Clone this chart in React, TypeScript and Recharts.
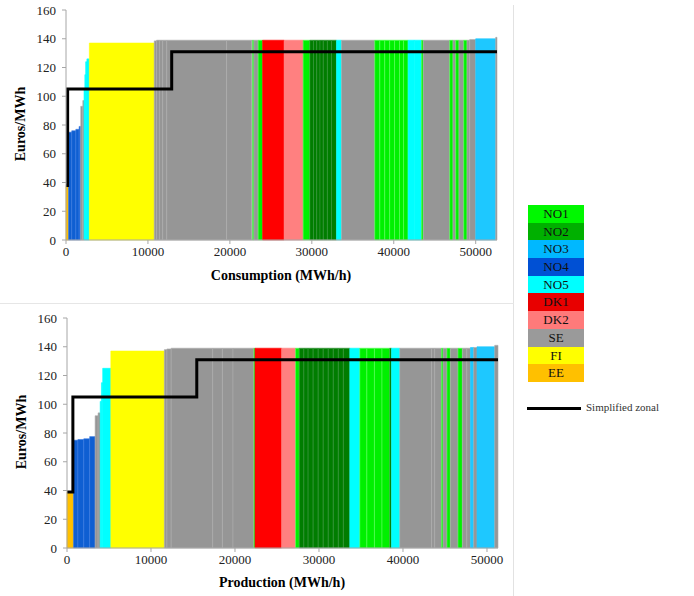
import React from 'react';
import { ComposedChart, Line, XAxis, YAxis, ReferenceArea } from 'recharts';

type Step = [number, number, number, string];

const zoneNames = ['NO1', 'NO2', 'NO3', 'NO4', 'NO5', 'DK1', 'DK2', 'SE', 'FI', 'EE'];
const legendColors = ['#00f800', '#00b000', '#00b8ff', '#0050d4', '#00ffff', '#e80000', '#ff7a7a', '#9a9a9a', '#ffff00', '#ffc000'];

const zoneFill: Record<string, string> = {
  NO1: '#00f000', NO2: '#007d00', NO3: '#1ec8ff', NO4: '#0f5fd2', NO5: '#00ffff',
  DK1: '#ff0000', DK2: '#ff8080', SE: '#969696', FI: '#ffff00', EE: '#ffc000',
};
const zoneStroke: Record<string, string> = {
  NO1: '#5cff5c', NO2: '#35953a', NO4: '#3a7ae0', SE: '#acacac',
};

const yTicks = [0, 20, 40, 60, 80, 100, 120, 140, 160];
const xTicks = [0, 10000, 20000, 30000, 40000, 50000];

const consumptionSteps: Step[] = [
  [0, 300, 38, 'EE'],
  [300, 700, 75, 'NO4'],
  [700, 1200, 76, 'NO4'],
  [1200, 1600, 77, 'NO4'],
  [1600, 1800, 79, 'NO4'],
  [1800, 2050, 93, 'SE'],
  [2050, 2200, 97, 'SE'],
  [2200, 2300, 105, 'NO5'],
  [2300, 2400, 115, 'NO5'],
  [2400, 2550, 124, 'NO5'],
  [2550, 2850, 126, 'NO5'],
  [2850, 10770, 137, 'FI'],
  [10770, 11050, 138.5, 'SE'],
  [11050, 11400, 139, 'SE'],
  [11400, 11800, 139, 'SE'],
  [11800, 12300, 139, 'SE'],
  [12300, 19600, 139, 'SE'],
  [19600, 22640, 139, 'SE'],
  [22640, 22770, 139, 'SE'],
  [22770, 22930, 139, 'NO1'],
  [22930, 23450, 139, 'SE'],
  [23450, 23990, 139, 'NO1'],
  [23990, 26620, 139, 'DK1'],
  [26620, 28940, 139, 'DK2'],
  [28940, 29760, 139, 'NO1'],
  [29760, 30200, 139, 'NO2'],
  [30200, 30600, 139, 'NO2'],
  [30600, 31000, 139, 'NO2'],
  [31000, 31400, 139, 'NO2'],
  [31400, 31900, 139, 'NO2'],
  [31900, 32400, 139, 'NO2'],
  [32400, 33010, 139, 'NO2'],
  [33010, 33620, 139, 'NO5'],
  [33620, 37680, 139, 'SE'],
  [37680, 38300, 139, 'NO1'],
  [38300, 38900, 139, 'NO1'],
  [38900, 39500, 139, 'NO1'],
  [39500, 40100, 139, 'NO1'],
  [40100, 40700, 139, 'NO1'],
  [40700, 41200, 139, 'NO1'],
  [41200, 41750, 139, 'NO1'],
  [41750, 42500, 139, 'NO5'],
  [42500, 43380, 139, 'NO5'],
  [43380, 43600, 139, 'NO1'],
  [43600, 46830, 139, 'SE'],
  [46830, 47230, 139, 'NO1'],
  [47230, 47560, 139, 'SE'],
  [47560, 47960, 139, 'NO1'],
  [47960, 48540, 139, 'SE'],
  [48540, 48940, 139, 'NO1'],
  [48940, 49270, 139, 'SE'],
  [49270, 50000, 139.5, 'SE'],
  [50000, 52440, 140, 'NO3'],
  [52440, 52600, 141, 'SE'],
];

const productionSteps: Step[] = [
  [0, 770, 39, 'EE'],
  [770, 1300, 75, 'NO4'],
  [1300, 2000, 75.5, 'NO4'],
  [2000, 2700, 76, 'NO4'],
  [2700, 3350, 77.5, 'NO4'],
  [3350, 3700, 92, 'SE'],
  [3700, 3950, 94, 'SE'],
  [3950, 4100, 102, 'NO5'],
  [4100, 4250, 115, 'NO5'],
  [4250, 5220, 125, 'NO5'],
  [5220, 11590, 137, 'FI'],
  [11590, 11900, 138, 'SE'],
  [11900, 12400, 138.5, 'SE'],
  [12400, 17350, 139, 'SE'],
  [17350, 18500, 139, 'SE'],
  [18500, 19760, 139, 'SE'],
  [19760, 22250, 139, 'SE'],
  [22250, 22380, 139, 'NO1'],
  [22380, 25550, 139, 'DK1'],
  [25550, 27210, 139, 'DK2'],
  [27210, 27650, 139, 'NO1'],
  [27650, 28200, 139, 'NO2'],
  [28200, 28700, 139, 'NO2'],
  [28700, 29300, 139, 'NO2'],
  [29300, 29900, 139, 'NO2'],
  [29900, 30500, 139, 'NO2'],
  [30500, 31100, 139, 'NO2'],
  [31100, 31700, 139, 'NO2'],
  [31700, 32300, 139, 'NO2'],
  [32300, 32900, 139, 'NO2'],
  [32900, 33670, 139, 'NO2'],
  [33670, 34860, 139, 'NO5'],
  [34860, 35700, 139, 'NO1'],
  [35700, 36600, 139, 'NO1'],
  [36600, 37500, 139, 'NO1'],
  [37500, 38430, 139, 'NO1'],
  [38430, 38630, 139, 'NO2'],
  [38630, 39620, 139, 'NO5'],
  [39620, 43390, 139, 'SE'],
  [43390, 43780, 139, 'SE'],
  [43780, 44580, 139, 'SE'],
  [44580, 44770, 139, 'NO1'],
  [44770, 45240, 139, 'SE'],
  [45240, 45640, 139, 'NO1'],
  [45640, 46550, 139, 'SE'],
  [46550, 47070, 139, 'NO1'],
  [47070, 47600, 139, 'SE'],
  [47600, 48030, 139, 'SE'],
  [48030, 48420, 139.5, 'NO3'],
  [48420, 48810, 139.5, 'SE'],
  [48810, 50920, 140, 'NO3'],
  [50920, 51310, 141, 'SE'],
];

const consumptionZonalX = [0, 200, 12900, 52600];
const consumptionZonalY = [38, 105, 131, 131];
const productionZonalX = [0, 700, 15450, 51310];
const productionZonalY = [39, 105, 131, 131];

const serif = 'Liberation Serif';
const axisColor = '#a6a6a6';

function Panel(props: {
  steps: Step[];
  zx: number[];
  zy: number[];
  xMax: number;
  width: number;
  height: number;
  margin: { top: number; right: number; bottom: number; left: number };
  yAxisWidth: number;
  xAxisHeight: number;
}) {
  const data = props.zx.map((x, i) => ({ x, y: props.zy[i] }));
  const tick = { fill: '#222', fontSize: 13, fontFamily: serif };
  return (
    <ComposedChart
      width={props.width}
      height={props.height}
      data={data}
      margin={props.margin}
      style={{ fontFamily: serif }}
    >
      <XAxis
        type="number"
        dataKey="x"
        domain={[0, props.xMax]}
        ticks={xTicks}
        allowDataOverflow
        height={props.xAxisHeight}
        axisLine={{ stroke: axisColor }}
        tickLine={{ stroke: axisColor }}
        tickSize={4}
        tickMargin={3}
        tick={tick}
        interval={0}
      />
      <YAxis
        type="number"
        domain={[0, 160]}
        ticks={yTicks}
        width={props.yAxisWidth}
        axisLine={{ stroke: axisColor }}
        tickLine={{ stroke: axisColor }}
        tickSize={4}
        tickMargin={6}
        tick={tick}
        interval={0}
      />
      {props.steps.map((s, i) => (
        <ReferenceArea
          key={i}
          x1={s[0]}
          x2={s[1]}
          y1={0}
          y2={s[2]}
          fill={zoneFill[s[3]]}
          fillOpacity={1}
          stroke={zoneStroke[s[3]] || zoneFill[s[3]]}
          strokeWidth={0.6}
          ifOverflow="visible"
        />
      ))}
      <Line
        type="stepAfter"
        dataKey="y"
        stroke="#000"
        strokeWidth={3}
        dot={false}
        isAnimationActive={false}
      />
    </ComposedChart>
  );
}

const titleStyle: React.CSSProperties = {
  position: 'absolute',
  fontFamily: serif,
  fontWeight: 'bold',
  fontSize: 14,
  color: '#000',
  whiteSpace: 'nowrap',
};

export default function App() {
  return (
    <div style={{ position: 'absolute', left: 0, top: 0, width: 694, height: 596, background: '#fff', overflow: 'hidden', fontFamily: serif }}>
      <div style={{ position: 'absolute', left: 513, top: 5, width: 1, height: 591, background: '#e2e2e2' }} />
      <div style={{ position: 'absolute', left: 0, top: 303, width: 514, height: 1, background: '#e6e6e6' }} />

      <div style={{ position: 'absolute', left: 0, top: 0 }}>
        <Panel
          steps={consumptionSteps}
          zx={consumptionZonalX}
          zy={consumptionZonalY}
          xMax={52600}
          width={515}
          height={300}
          margin={{ top: 10, right: 18, bottom: 0, left: 0 }}
          yAxisWidth={66}
          xAxisHeight={60}
        />
      </div>
      <div style={{ ...titleStyle, left: 181, width: 200, top: 268, textAlign: 'center' }}>Consumption (MWh/h)</div>
      <div style={{ ...titleStyle, left: -79, width: 200, top: 116, textAlign: 'center', transform: 'rotate(-90deg)' }}>Euros/MWh</div>

      <div style={{ position: 'absolute', left: 0, top: 303 }}>
        <Panel
          steps={productionSteps}
          zx={productionZonalX}
          zy={productionZonalY}
          xMax={51310}
          width={515}
          height={293}
          margin={{ top: 15, right: 17, bottom: 0, left: 0 }}
          yAxisWidth={67}
          xAxisHeight={48}
        />
      </div>
      <div style={{ ...titleStyle, left: 182, width: 200, top: 575, textAlign: 'center' }}>Production (MWh/h)</div>
      <div style={{ ...titleStyle, left: -78, width: 200, top: 424, textAlign: 'center', transform: 'rotate(-90deg)' }}>Euros/MWh</div>

      <div style={{ position: 'absolute', left: 528, top: 205, width: 56 }}>
        {zoneNames.map((z, i) => (
          <div
            key={z}
            style={{
              height: 17.7,
              lineHeight: '17.7px',
              background: legendColors[i],
              textAlign: 'center',
              fontSize: 13,
              color: '#111',
            }}
          >
            {z}
          </div>
        ))}
      </div>
      <div style={{ position: 'absolute', left: 527, top: 407, width: 54, height: 3, background: '#000' }} />
      <div style={{ position: 'absolute', left: 586, top: 401, fontSize: 11, color: '#333', whiteSpace: 'nowrap' }}>
        Simplified zonal
      </div>
    </div>
  );
}
